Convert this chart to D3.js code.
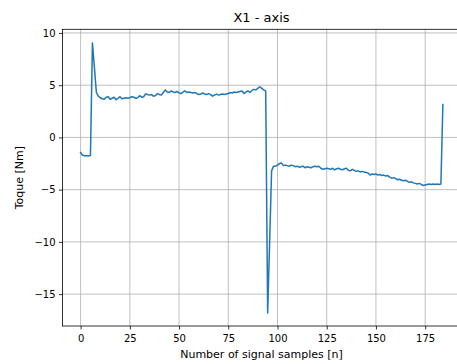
<!DOCTYPE html>
<html><head><meta charset="utf-8">
<script src="https://cdn.jsdelivr.net/npm/d3@7"></script>
<style>body{margin:0;background:#fff}svg{display:block;font-family:"DejaVu Sans",sans-serif}</style>
</head><body>
<script>
const title = "X1 - axis";
const xLabel = "Number of signal samples [n]";
const yLabel = "Toque [Nm]";
const xTicks = [0,25,50,75,100,125,150,175];
const yTicks = [-15,-10,-5,0,5,10];
const torque = [
-1.45,-1.7,-1.75,-1.75,-1.78,-1.72,9.05,6.7,4.3,3.95,
3.8,3.7,3.65,3.85,3.9,3.65,3.75,3.85,3.6,3.75,
3.9,3.7,3.75,3.8,3.75,3.8,3.9,3.85,3.75,3.8,
4.0,3.85,3.9,4.15,4.1,4.05,4.1,3.95,4.0,4.2,
4.1,4.05,4.3,4.55,4.35,4.3,4.45,4.35,4.3,4.4,
4.25,4.2,4.35,4.45,4.3,4.35,4.3,4.25,4.3,4.2,
4.1,4.15,4.25,4.15,4.1,4.2,4.1,3.95,4.05,4.15,
4.05,4.1,4.15,4.1,4.15,4.2,4.3,4.25,4.35,4.3,
4.35,4.4,4.45,4.2,4.35,4.45,4.3,4.5,4.6,4.55,
4.7,4.85,4.7,4.55,4.45,-16.8,-10.0,-3.2,-2.75,-2.75,
-2.65,-2.5,-2.45,-2.7,-2.65,-2.7,-2.75,-2.65,-2.7,-2.8,
-2.75,-2.85,-2.8,-2.75,-2.9,-2.8,-2.85,-2.9,-2.8,-2.75,
-2.8,-2.75,-2.95,-3.05,-3.0,-2.95,-3.0,-3.05,-2.95,-3.1,
-3.0,-2.95,-3.05,-3.1,-3.0,-2.95,-3.15,-3.2,-3.05,-3.15,
-3.25,-3.2,-3.3,-3.25,-3.3,-3.35,-3.4,-3.6,-3.5,-3.55,
-3.5,-3.6,-3.55,-3.65,-3.6,-3.7,-3.65,-3.8,-3.9,-3.85,
-3.95,-4.05,-4.0,-4.1,-4.15,-4.1,-4.2,-4.3,-4.25,-4.35,
-4.4,-4.45,-4.4,-4.5,-4.6,-4.55,-4.5,-4.45,-4.5,-4.45,
-4.5,-4.45,-4.5,-4.45,3.15
];
const samples = torque.map((_, i) => i);

const W = 457, H = 364;
const L = 62.5, R = 461, T = 29.3, B = 326;
const svg = d3.select("body").append("svg").attr("width", W).attr("height", H);

const x = d3.scaleLinear().domain([-9.2, 193.2]).range([L, R]);
const y = d3.scaleLinear().domain([-18.05, 10.35]).range([B, T]);

const grid = svg.append("g");
grid.selectAll("line.vx").data(xTicks).join("line")
  .attr("x1", d => x(d)).attr("x2", d => x(d)).attr("y1", T).attr("y2", B)
  .attr("stroke", "#b0b0b0").attr("stroke-width", 0.8);
grid.selectAll("line.hy").data(yTicks).join("line")
  .attr("y1", d => y(d)).attr("y2", d => y(d)).attr("x1", L).attr("x2", R)
  .attr("stroke", "#b0b0b0").attr("stroke-width", 0.8);

const line = d3.line().x((d, i) => x(samples[i])).y(d => y(d));
svg.append("path").datum(torque).attr("d", line)
  .attr("fill", "none").attr("stroke", "#1f77b4").attr("stroke-width", 1.5)
  .attr("stroke-linejoin", "round").attr("stroke-linecap", "square");

const fmt = d => d < 0 ? "\u2212" + Math.abs(d) : String(d);
const xa = svg.append("g").attr("transform", `translate(0,${B})`)
  .call(d3.axisBottom(x).tickValues(xTicks).tickFormat(fmt).tickSize(3.5).tickPadding(5));
const ya = svg.append("g").attr("transform", `translate(${L},0)`)
  .call(d3.axisLeft(y).tickValues(yTicks).tickFormat(fmt).tickSize(3.5).tickPadding(3.5));
[xa, ya].forEach(a => {
  a.select(".domain").remove();
  a.selectAll("line").attr("stroke", "#000").attr("stroke-width", 0.8);
  a.selectAll("text").attr("font-size", 10).attr("fill", "#000").attr("font-family", "DejaVu Sans");
});

svg.append("rect").attr("x", L).attr("y", T).attr("width", R - L).attr("height", B - T)
  .attr("fill", "none").attr("stroke", "#000").attr("stroke-width", 0.8);

svg.append("text").attr("x", 261.5).attr("y", 21.5).attr("text-anchor", "middle")
  .attr("font-size", 13).text(title);
svg.append("text").attr("x", 261.5).attr("y", 357.5).attr("text-anchor", "middle")
  .attr("font-size", 11).text(xLabel);
svg.append("text").attr("transform", `translate(23,${(T + B) / 2}) rotate(-90)`)
  .attr("text-anchor", "middle").attr("font-size", 11).text(yLabel);
</script>
</body></html>
